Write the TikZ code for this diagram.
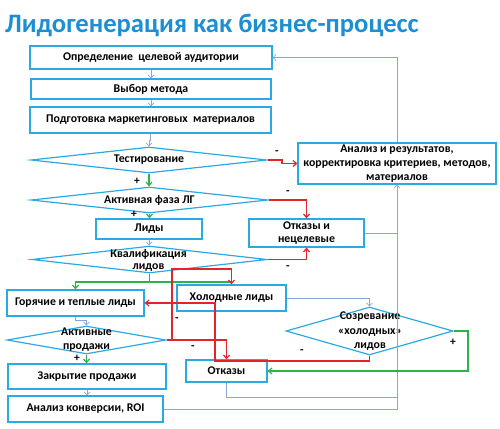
\documentclass[tikz,border=0pt]{standalone}
\usepackage{fontspec}
\setmainfont{Carlito}
\usetikzlibrary{shapes.geometric,arrows.meta}
\definecolor{boxc}{HTML}{29AAE2}
\definecolor{linkc}{HTML}{8AA6D8}
\definecolor{redc}{HTML}{E3242B}
\definecolor{greenc}{HTML}{2DB34A}
\definecolor{titlec}{HTML}{1B8FD2}
\tikzset{
  stepbox/.style={draw=boxc, line width=1.2pt, inner sep=0pt, align=center},
  dia/.style={diamond, draw=boxc, line width=1.2pt, inner sep=0pt},
  dtext/.style={align=center, inner sep=0pt},
  lk/.style={draw=linkc, line width=0.8pt},
  lka/.style={lk, -{Straight Barb[length=3pt,width=6pt]}},
  rd/.style={draw=redc, line width=1.2pt},
  rda/.style={rd, -{Straight Barb[length=3.5pt,width=6pt]}},
  gn/.style={draw=greenc, line width=1.2pt},
  gna/.style={gn, -{Straight Barb[length=3.5pt,width=6pt]}},
  sign/.style={font=\bfseries\fontsize{11.5}{12}\selectfont, inner sep=0pt}
}
\begin{document}
\begin{tikzpicture}[x=1pt,y=-1pt, every node/.style={font=\bfseries\fontsize{11.8}{14}\selectfont, text=black}]
\useasboundingbox (0,0) rectangle (500,428);
\node[anchor=base west, font=\bfseries\fontsize{26.6}{30}\selectfont, text=titlec, inner sep=0pt] (title) at (5,33) {Лидогенерация как бизнес-процесс};

% boxes
\node[stepbox, minimum width=242, minimum height=23] (b1) at (151,57.5) {Определение\ \ целевой аудитории};
\node[stepbox, minimum width=240, minimum height=20] (b2) at (151,89) {Выбор метода};
\node[stepbox, minimum width=241, minimum height=26] (b3) at (150.5,120) {Подготовка маркетинговых\ \ материалов};
\node[stepbox, minimum width=198, minimum height=41] (bAnal) at (397,163.5) {Анализ и результатов,\\корректировка критериев, методов,\\материалов};
\node[stepbox, minimum width=106, minimum height=20] (bLeads) at (149,229) {Лиды};
\node[stepbox, minimum width=115, minimum height=28, font=\bfseries\fontsize{11.8}{13}\selectfont] (bRef) at (306.5,233) {Отказы и\\нецелевые};
\node[stepbox, minimum width=137, minimum height=26] (bHot) at (75.5,303) {Горячие и теплые лиды};
\node[stepbox, minimum width=109, minimum height=26] (bCold) at (231.5,298) {Холодные лиды};
\node[stepbox, minimum width=158, minimum height=25] (bClose) at (87,376.5) {Закрытие продажи};
\node[stepbox, minimum width=155, minimum height=26] (bROI) at (85.5,409) {Анализ конверсии, ROI};
\node[stepbox, minimum width=81, minimum height=22] (bRej) at (226.5,371) {Отказы};

% diamonds
\node[dia, minimum width=236, minimum height=26] (dTest) at (149,160) {};
\node[dtext] (tTest) at (dTest.center) {Тестирование};
\node[dia, minimum width=237, minimum height=26] (dAct) at (149.5,200) {};
\node[dtext] (tAct) at (dAct.center) {Активная фаза ЛГ};
\node[dia, minimum width=235, minimum height=27] (dQual) at (149.5,259.5) {};
\node[dtext, font=\bfseries\fontsize{11.8}{12}\selectfont] (tQual) at (148.5,260) {Квалификация\\лидов};
\node[dia, minimum width=159, minimum height=28] (dSales) at (86.5,340) {};
\node[dtext, font=\bfseries\fontsize{11.8}{14}\selectfont] (tSales) at (86.5,340) {Активные\\продажи};
\node[dia, minimum width=167, minimum height=48] (dMat) at (369.5,331) {};
\node[dtext, font=\bfseries\fontsize{11.8}{14.5}\selectfont] (tMat) at (370,331.5) {Созревание\\«холодных»\\лидов};

% blue connectors
\draw[lka] (b1.south) -- (b2.north);
\draw[lka] (b2.south) -- (b2.south |- b3.north);
\draw[lka] (b3.south) -- ++(0,7) -| (dTest.north);
\draw[lka] (bLeads.south) -- (bLeads.south |- dQual.north);
\draw[lka] (bCold.east) -| (dMat.north);
\draw[lka] (bHot.south) -- ++(0,4) -| (dSales.north);
\draw[lka] (bClose.south) -- (bClose.south |- bROI.north);
\draw[lka] (bROI.east) -| (bAnal.south);
\draw[lk] (bRej.south) |- (bAnal.south |- 0,397);
\draw[lk] (bRef.east) -- (bAnal.south |- bRef.east);
\draw[lka] (bAnal.north) |- (b1.east);

% green connectors
\draw[gna] (dTest.south) -- (dTest.south |- dAct.north);
\draw[gna] (dAct.south) -- (dAct.south |- bLeads.north);
\draw[gna] (dQual.south) |- (bHot.north |- 0,282) -- (bHot.north);
\draw[gn] (dQual.south) |- (bCold.north |- 0,282);
\draw[gna] (dSales.south) -- (dSales.south |- bClose.north);
\draw[gna] (dMat.east) -- (468,331) |- (bRej.east);

% red connectors
\draw[rda] (dTest.east) -- (282,160) |- (bAnal.west);
\draw[rda] (dAct.east) -| (bRef.north);
\draw[rda] (dQual.east) -| (bRef.south);
\coordinate (rj) at (172,340);
\draw[rda] (dSales.east) -- (bRej.north |- dSales.east) -- (bRej.north);
\draw[rda] (rj) -- (172,269) -- (bCold.north |- 0,269) -- (bCold.north);
\draw[rda] (dMat.south) -- (dMat.south |- 0,361) -- (215,361) -- (215,303) -- (bHot.east);

% signs
\node[sign] (m1) at (277,153) {-};
\node[sign] (m2) at (288,193) {-};
\node[sign] (m3) at (288,268) {-};
\node[sign] (m4) at (177,320) {-};
\node[sign] (m5) at (193,348) {-};
\node[sign] (m6) at (302,352) {-};
\node[sign] (p1) at (137,181) {+};
\node[sign] (p2) at (134,214) {+};
\node[sign] (p3) at (77,358) {+};
\node[sign] (p4) at (453,342) {+};
\end{tikzpicture}
\end{document}
